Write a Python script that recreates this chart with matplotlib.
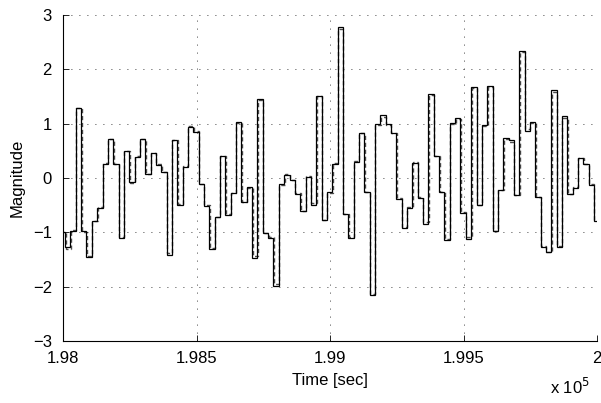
import matplotlib.pyplot as plt
import numpy as np

# step signal, one value per 20 s interval
measured = [-1.00, -1.27, -0.98, 1.28, -0.97, -1.45, -0.79, -0.55, 0.26, 0.71,
            0.25, -1.10, 0.50, -0.08, 0.38, 0.71, 0.08,
            0.45, 0.23, 0.10, -1.41, 0.69, -0.49, 0.21, 0.93, 0.85,
            -0.12, -0.52, -1.31, -0.72, 0.40, -0.69, -0.28, 1.03,
            -0.45, -0.17, -1.47, 1.46, -1.02, -1.10, -1.98, -0.12, 0.06,
            -0.04, -0.29, -0.61, 0.02, -0.49, 1.51, -0.78, -0.26,
            0.25, 2.77, -0.67, -1.10, 0.29, 0.83, -0.26, -2.16, 1.00,
            1.15, 0.99, 0.83, -0.38, -0.93, -0.56, 0.28, -0.37,
            -0.84, 1.55, 0.40, -0.26, -1.15, 1.01, 1.11, -0.64, -1.12,
            1.67, -0.50, 0.97, 1.69, -0.98, -0.23, 0.74, 0.69,
            -0.32, 2.33, 0.86, 1.03, -0.36, -1.27, -1.37, 1.61, -1.28,
            1.14, -0.30, -0.18, 0.36, 0.25, -0.13, -0.80]

estimated = [-1.00, -1.31, -0.96, 1.28, -0.99, -1.43, -0.79, -0.54, 0.28, 0.71,
             0.26, -1.08, 0.49, -0.09, 0.40, 0.72, 0.08,
             0.45, 0.25, 0.11, -1.39, 0.70, -0.48, 0.22, 0.95, 0.86,
             -0.11, -0.50, -1.29, -0.71, 0.41, -0.67, -0.27, 1.01,
             -0.44, -0.19, -1.44, 1.44, -1.01, -1.09, -1.95, -0.13, 0.07,
             -0.03, -0.28, -0.60, 0.03, -0.47, 1.50, -0.77, -0.27,
             0.27, 2.74, -0.66, -1.08, 0.31, 0.83, -0.25, -2.13, 0.98,
             1.13, 0.98, 0.82, -0.37, -0.90, -0.54, 0.29, -0.36,
             -0.82, 1.53, 0.41, -0.25, -1.13, 0.99, 1.08, -0.63, -1.09,
             1.65, -0.49, 0.96, 1.67, -0.97, -0.22, 0.71, 0.67,
             -0.31, 2.31, 0.90, 1.01, -0.35, -1.25, -1.36, 1.59, -1.26,
             1.11, -0.29, -0.17, 0.37, 0.26, -0.12, -0.78]

t_start = 197988
t_step = 20
xticks = [1.98e5, 1.985e5, 1.99e5, 1.995e5, 2.0e5]
xtick_labels = ['1.98', '1.985', '1.99', '1.995', '2']
yticks = [-3, -2, -1, 0, 1, 2, 3]
ytick_labels = ['\u22123', '\u22122', '\u22121', '0', '1', '2', '3']

plt.rcParams['font.family'] = ['Liberation Sans', 'DejaVu Sans']
plt.rcParams['font.size'] = 12

fig = plt.figure(figsize=(6.01, 4.03), dpi=100)
ax = fig.add_axes([0.1048, 0.154, 0.889, 0.809])

edges = t_start + t_step * np.arange(len(measured) + 1)
ax.stairs(estimated, edges + 1.5, baseline=None, color='0.3', lw=1.0,
          linestyle=(0, (3, 2)))
ax.stairs(measured, edges, baseline=None, color='black', lw=0.9)

ax.set_xlim(1.98e5, 2.0e5)
ax.set_ylim(-3, 3)
ax.set_xticks(xticks)
ax.set_xticklabels(xtick_labels)
ax.set_yticks(yticks)
ax.set_yticklabels(ytick_labels)

ax.grid(True, linestyle=(0, (1, 8.6)), color='black', lw=0.6)
ax.spines['top'].set_visible(False)
ax.spines['right'].set_visible(False)
ax.tick_params(direction='in', length=4, width=0.6)
ax.tick_params(axis='x', pad=7)
ax.tick_params(axis='y', pad=8)

ax.set_xlabel('Time [sec]', labelpad=5)
ax.set_ylabel('Magnitude', labelpad=6)
fig.text(0.982, 0.022, r'x 10$^{5}$', ha='right', va='baseline', fontsize=12)

fig.savefig('out.png', dpi=100)
